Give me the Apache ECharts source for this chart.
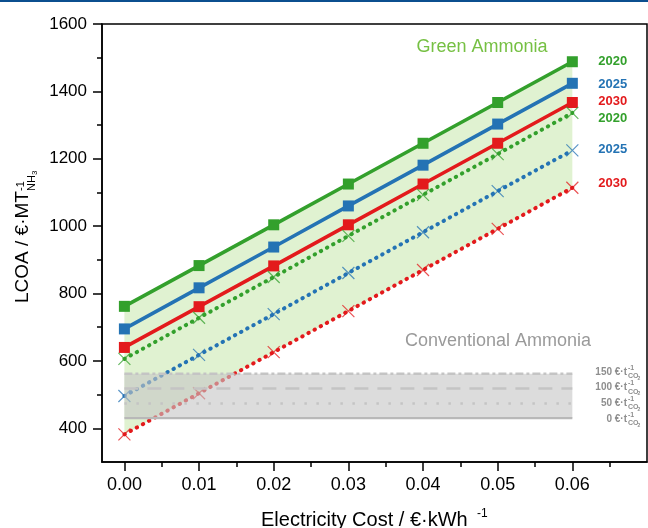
<!DOCTYPE html>
<html>
<head>
<meta charset="utf-8">
<script src="https://cdn.jsdelivr.net/npm/echarts@6/dist/echarts.min.js"></script>
<style>
  html, body { margin: 0; padding: 0; background: #ffffff; }
  #chart { width: 648px; height: 528px; }
</style>
</head>
<body>
<div id="chart"></div>
<script>
// Electricity cost (EUR/kWh) at which each levelised cost was evaluated
const electricityCost = [0, 0.01, 0.02, 0.03, 0.04, 0.05, 0.06];

// Levelised cost of green ammonia (EUR per tonne NH3), upper scenario
const green2020 = [762, 883, 1004, 1125, 1246, 1367, 1488];
const green2025 = [695, 817, 938, 1060, 1181, 1303, 1424];
const green2030 = [640, 761, 882, 1004, 1125, 1246, 1367];

// Levelised cost of green ammonia, lower scenario
const green2020Low = [606, 728, 849, 971, 1093, 1214, 1336];
const green2025Low = [496, 618, 739, 861, 982, 1104, 1225];
const green2030Low = [382, 504, 626, 748, 870, 992, 1114];

// Conventional ammonia cost for a range of CO2 prices (EUR per tonne CO2)
const co2Prices = [0, 50, 100, 150];
const conventionalCost = [430, 474, 518, 562];

// Axis ticks
const xTicks = [0, 0.01, 0.02, 0.03, 0.04, 0.05, 0.06];
const xMinorTicks = [0.005, 0.015, 0.025, 0.035, 0.045, 0.055, 0.065];
const yTicks = [400, 600, 800, 1000, 1200, 1400, 1600];
const yMinorTicks = [500, 700, 900, 1100, 1300, 1500];

const yearLabels = ['2020', '2025', '2030'];

const FONT = '"Liberation Sans", Arial, Helvetica, sans-serif';
const C_GREEN = '#33a02c';
const C_BLUE = '#2473b4';
const C_RED = '#e31a1c';
const C_GRAY_TXT = '#8e8e8e';
const X_MIN = -0.003, X_MAX = 0.07, Y_MIN = 300, Y_MAX = 1600;

const pairs = (vals) => electricityCost.map((x, i) => [x, vals[i]]);

const crossSymbol = 'path://M0,0L10,10M10,0L0,10';

function solidSeries(name, vals, color) {
  return {
    name, type: 'line', data: pairs(vals), z: 3,
    symbol: 'rect', symbolSize: 11,
    lineStyle: { color, width: 3.6 },
    itemStyle: { color },
    emphasis: { disabled: true }
  };
}

function dottedSeries(name, vals, color) {
  return {
    name, type: 'line', data: pairs(vals), z: 3,
    symbol: crossSymbol, symbolSize: 12,
    lineStyle: { color, width: 4, type: [0.5, 6.5], cap: 'round' },
    itemStyle: { color: 'rgba(0,0,0,0)', borderColor: color, borderWidth: 1.2, opacity: 0.75 },
    emphasis: { disabled: true }
  };
}

// Polygon between two cost curves over the electricity cost range
function bandSeries(upper, lower, fill, z) {
  return {
    type: 'custom', z, silent: true,
    data: [[0, 0]],
    renderItem: (params, api) => {
      const top = electricityCost.map((x, i) => api.coord([x, upper[i]]));
      const bottom = electricityCost.map((x, i) => api.coord([x, lower[i]])).reverse();
      return { type: 'polygon', shape: { points: top.concat(bottom) }, style: { fill } };
    }
  };
}

const co2LineStyles = [
  { type: 'solid', width: 2.2, color: '#b8b8b8' },
  { type: [2.5, 9.5], width: 2.5, color: '#c4c4c4' },
  { type: [14, 9], width: 2.5, color: '#c4c4c4' },
  { type: [8, 3, 3, 3], width: 2.5, color: '#c4c4c4' }
];

const co2Series = co2Prices.map((p, i) => ({
  name: p + ' EUR/t CO2', type: 'line', z: 5, silent: true,
  symbol: 'none',
  data: [[electricityCost[0], conventionalCost[i]], [electricityCost[electricityCost.length - 1], conventionalCost[i]]],
  lineStyle: co2LineStyles[i]
}));

const conventionalUpper = electricityCost.map(() => conventionalCost[conventionalCost.length - 1]);
const conventionalLower = electricityCost.map(() => conventionalCost[0]);

const chart = echarts.init(document.getElementById('chart'), null, { renderer: 'canvas' });

const option = {
  animation: false,
  backgroundColor: '#ffffff',
  textStyle: { fontFamily: FONT },
  grid: {
    left: 102, right: 1, top: 24, bottom: 66,
    show: true, borderColor: '#000', borderWidth: 1.5, backgroundColor: 'transparent'
  },
  xAxis: [
    {
      type: 'value', min: X_MIN, max: X_MAX, position: 'bottom',
      axisLine: { show: true, onZero: false, lineStyle: { color: '#000', width: 1.5 } },
      axisTick: { show: true, inside: false, length: 9, customValues: xTicks, lineStyle: { color: '#000', width: 1.5 } },
      axisLabel: {
        show: true, customValues: xTicks, margin: 14,
        fontSize: 18, color: '#000', fontFamily: FONT,
        formatter: (v) => v.toFixed(2)
      },
      splitLine: { show: false }
    },
    {
      type: 'value', min: X_MIN, max: X_MAX, position: 'bottom',
      axisLine: { show: false, onZero: false },
      axisTick: { show: true, length: 5, customValues: xMinorTicks, lineStyle: { color: '#000', width: 1.5 } },
      axisLabel: { show: false },
      splitLine: { show: false }
    }
  ],
  yAxis: [
    {
      type: 'value', min: Y_MIN, max: Y_MAX, position: 'left',
      axisLine: { show: true, onZero: false, lineStyle: { color: '#000', width: 1.5 } },
      axisTick: { show: true, inside: false, length: 9, customValues: yTicks, lineStyle: { color: '#000', width: 1.5 } },
      axisLabel: {
        show: true, customValues: yTicks, margin: 15, fontSize: 17, color: '#000', fontFamily: FONT,
        formatter: (v) => String(v)
      },
      splitLine: { show: false }
    },
    {
      type: 'value', min: Y_MIN, max: Y_MAX, position: 'left',
      axisLine: { show: false, onZero: false },
      axisTick: { show: true, length: 5, customValues: yMinorTicks, lineStyle: { color: '#000', width: 1.5 } },
      axisLabel: { show: false },
      splitLine: { show: false }
    }
  ],
  series: [
    bandSeries(green2020, green2030Low, '#e0f2d1', 1),
    solidSeries('2020', green2020, C_GREEN),
    solidSeries('2025', green2025, C_BLUE),
    solidSeries('2030', green2030, C_RED),
    dottedSeries('2020 low', green2020Low, C_GREEN),
    dottedSeries('2025 low', green2025Low, C_BLUE),
    dottedSeries('2030 low', green2030Low, C_RED),
    bandSeries(conventionalUpper, conventionalLower, 'rgba(196,196,196,0.6)', 4),
    ...co2Series
  ]
};

chart.setOption(option);

// Annotations placed relative to the end points of the curves
const lastX = electricityCost[electricityCost.length - 1];
const px = (x, y) => chart.convertToPixel({ xAxisIndex: 0, yAxisIndex: 0 }, [x, y]);

const yearTags = [
  { vals: green2020, color: C_GREEN, text: yearLabels[0], dy: 0 },
  { vals: green2025, color: C_BLUE, text: yearLabels[1], dy: 1 },
  { vals: green2030, color: C_RED, text: yearLabels[2], dy: -1 },
  { vals: green2020Low, color: C_GREEN, text: yearLabels[0], dy: 5 },
  { vals: green2025Low, color: C_BLUE, text: yearLabels[1], dy: -1 },
  { vals: green2030Low, color: C_RED, text: yearLabels[2], dy: -4 }
];

const graphics = [];

// thin rule along the top edge of the page
graphics.push({ type: 'rect', left: 0, top: 0, shape: { x: 0, y: 0, width: 648, height: 2 }, style: { fill: '#0b4f8f' }, silent: true });

yearTags.forEach((t) => {
  const p = px(lastX, t.vals[t.vals.length - 1]);
  graphics.push({
    type: 'text', x: p[0] + 26, y: p[1] + t.dy, z: 10, silent: true,
    style: { text: t.text, fill: t.color, font: 'bold 13px ' + FONT, align: 'left', verticalAlign: 'middle' }
  });
});

// CO2 price tags beside the conventional ammonia band
const co2TagY = [419, 403, 387.5, 372];
co2Prices.forEach((p, i) => {
  const y = co2TagY[i];
  graphics.push({
    type: 'group', x: 627, y, z: 10, silent: true,
    children: [
      { type: 'text', x: 0, y: 0, style: { text: p + ' €·t', fill: C_GRAY_TXT, font: 'bold 10px ' + FONT, align: 'right', verticalAlign: 'middle' } },
      { type: 'text', x: 1, y: -4, style: { text: '-1', fill: C_GRAY_TXT, font: 'bold 7px ' + FONT, align: 'left', verticalAlign: 'middle' } },
      { type: 'text', x: 1, y: 4.5, style: { text: 'CO', fill: C_GRAY_TXT, font: 'bold 7px ' + FONT, align: 'left', verticalAlign: 'middle' } },
      { type: 'text', x: 10.5, y: 6.5, style: { text: '2', fill: C_GRAY_TXT, font: 'bold 5px ' + FONT, align: 'left', verticalAlign: 'middle' } }
    ]
  });
});

// Region titles
graphics.push({
  type: 'text', x: 482, y: 47, z: 10, silent: true,
  style: { text: 'Green Ammonia', fill: '#76c043', font: '18px ' + FONT, align: 'center', verticalAlign: 'middle' }
});
graphics.push({
  type: 'text', x: 498, y: 341, z: 10, silent: true,
  style: { text: 'Conventional Ammonia', fill: '#9a9a9a', font: '18px ' + FONT, align: 'center', verticalAlign: 'middle' }
});

// Axis titles with super- and subscripts
graphics.push({
  type: 'group', x: 261, y: 520, z: 10, silent: true,
  children: [
    { type: 'text', x: 0, y: 0, style: { text: 'Electricity Cost / €·kWh', fill: '#000', font: '20px ' + FONT, align: 'left', verticalAlign: 'middle' } },
    { type: 'text', x: 216, y: -6, style: { text: '-1', fill: '#000', font: '12px ' + FONT, align: 'left', verticalAlign: 'middle' } }
  ]
});
graphics.push({
  type: 'group', x: 30, y: 303, rotation: Math.PI / 2, z: 10, silent: true,
  children: [
    { type: 'text', x: 0, y: -7, style: { text: 'LCOA / €·MT', fill: '#000', font: '19px ' + FONT, align: 'left', verticalAlign: 'middle' } },
    { type: 'text', x: 112, y: -9, style: { text: '-1', fill: '#000', font: '11px ' + FONT, align: 'left', verticalAlign: 'middle' } },
    { type: 'text', x: 112, y: 2, style: { text: 'NH', fill: '#000', font: '11px ' + FONT, align: 'left', verticalAlign: 'middle' } },
    { type: 'text', x: 128, y: 5, style: { text: '3', fill: '#000', font: '8px ' + FONT, align: 'left', verticalAlign: 'middle' } }
  ]
});

chart.setOption({ graphic: graphics });
</script>
</body>
</html>
